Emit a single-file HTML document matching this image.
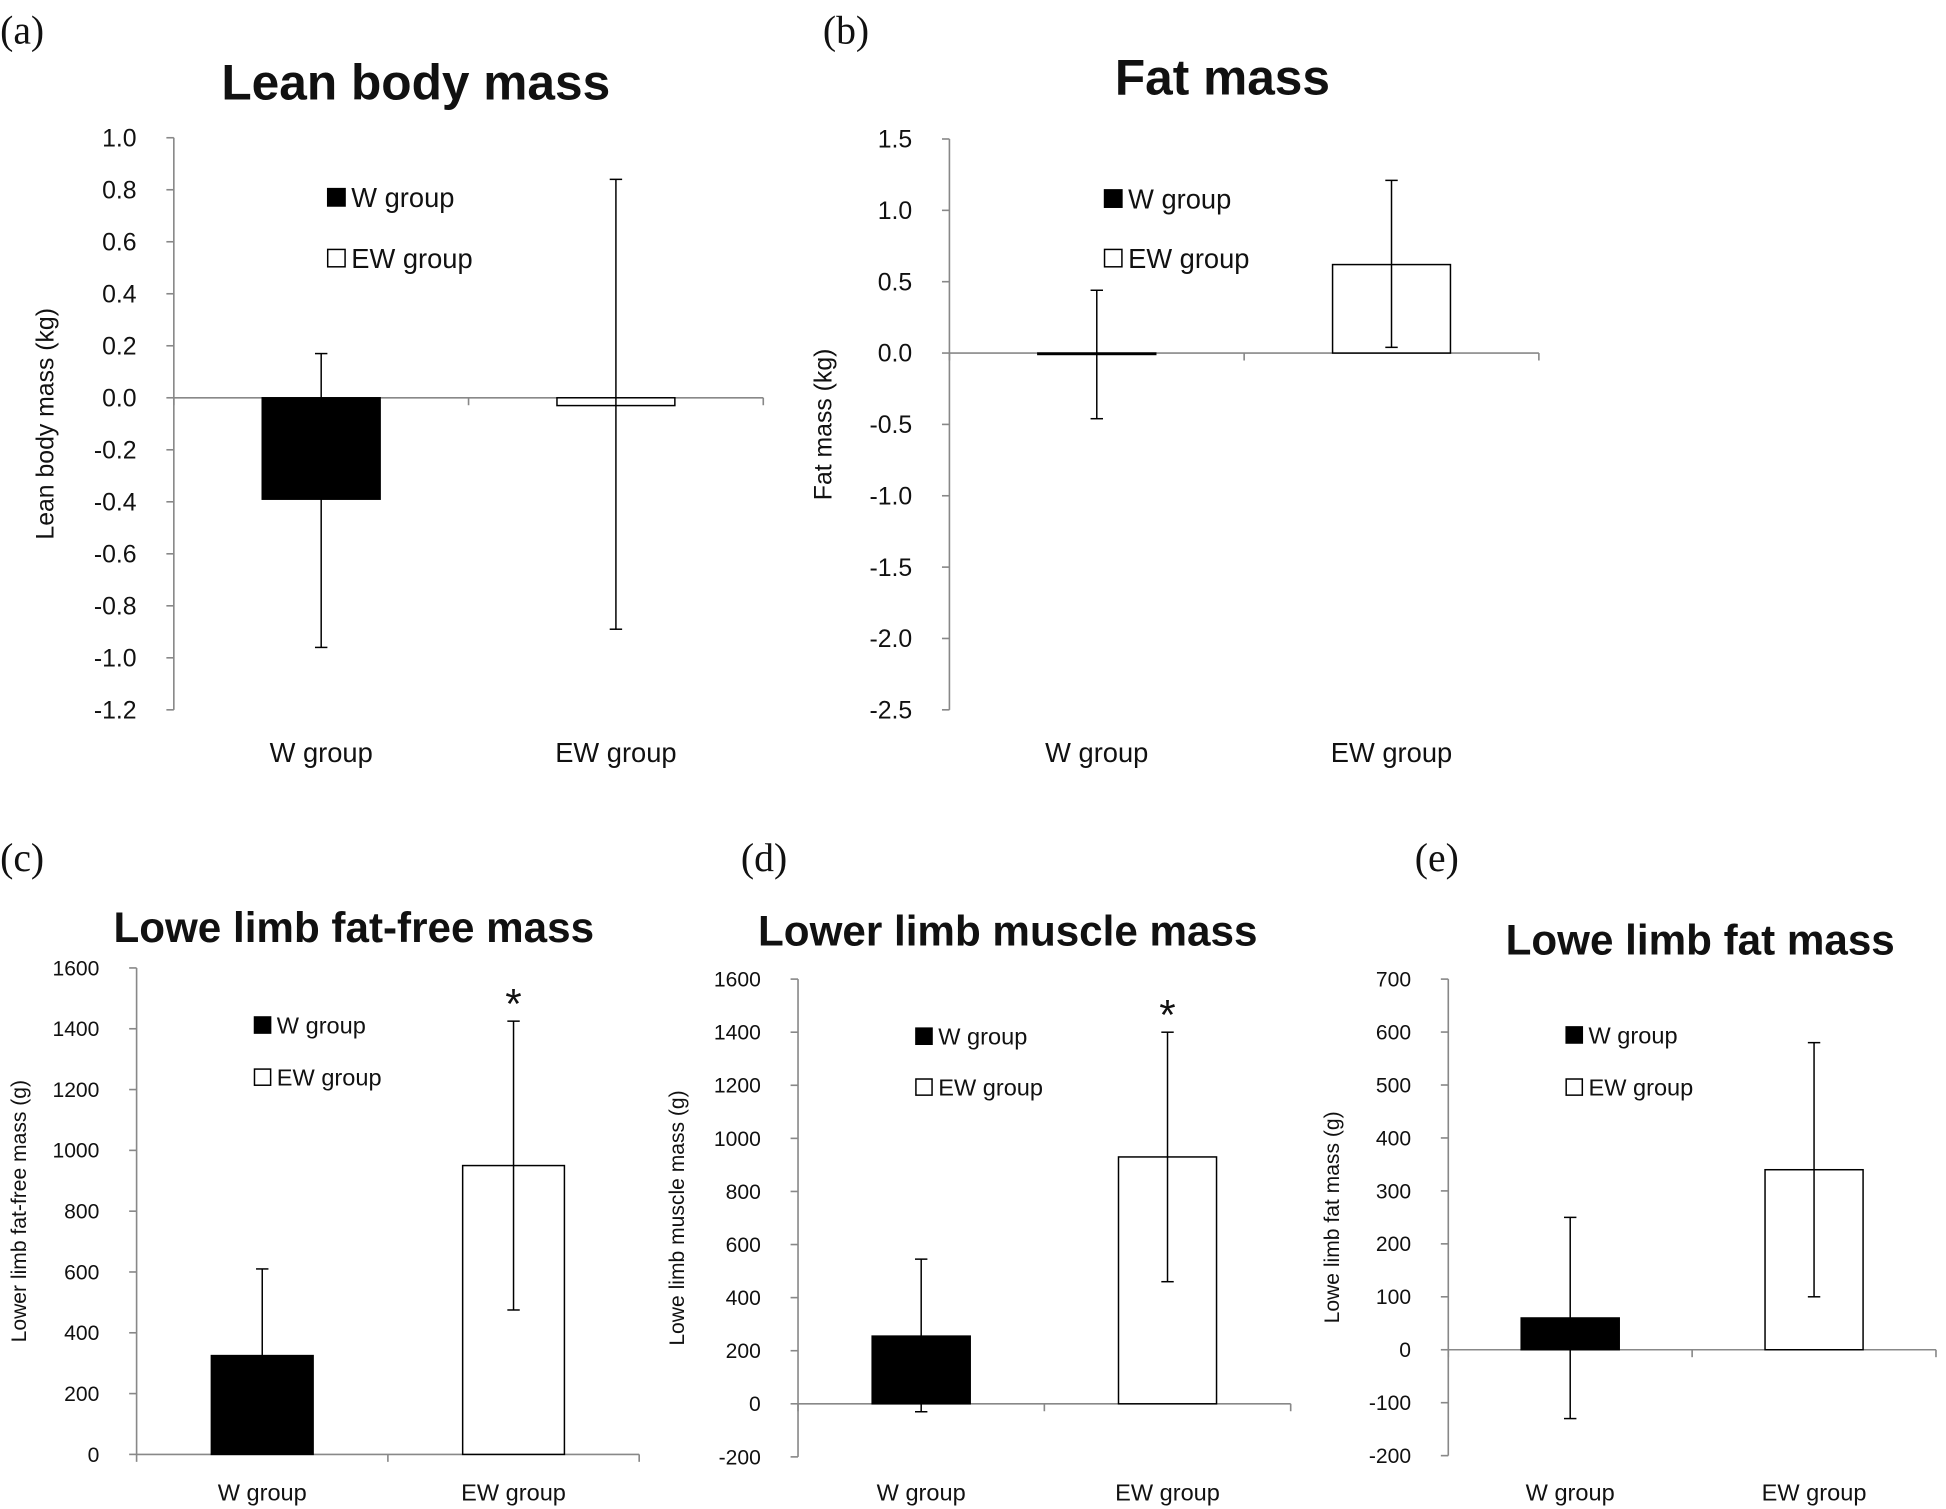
<!DOCTYPE html>
<html><head><meta charset="utf-8"><style>
html,body{margin:0;padding:0;background:#fff;}
svg{display:block;}
text{font-family:"Liberation Sans","DejaVu Sans",sans-serif;fill:#111;}
.lt{font-family:"Liberation Serif",serif;font-weight:normal;}
</style></head><body>
<svg id="chart" width="1946" height="1509" viewBox="0 0 1568 1216" xmlns="http://www.w3.org/2000/svg"></svg>
<script>
const categories = ["W group","EW group"];
const leanValues = [-0.39,-0.03];
const leanErrHi = [0.17,0.84];
const leanErrLo = [-0.96,-0.89];
const leanTicks = [1.0,0.8,0.6,0.4,0.2,0.0,-0.2,-0.4,-0.6,-0.8,-1.0,-1.2];
const fatValues = [-0.01,0.62];
const fatErrHi = [0.44,1.21];
const fatErrLo = [-0.46,0.04];
const fatTicks = [1.5,1.0,0.5,0.0,-0.5,-1.0,-1.5,-2.0,-2.5];
const ffValues = [325,950];
const ffErrHi = [610,1425];
const ffErrLo = [40,475];
const ffTicks = [1600,1400,1200,1000,800,600,400,200,0];
const muscleValues = [255,930];
const muscleErrHi = [545,1400];
const muscleErrLo = [-30,460];
const muscleTicks = [1600,1400,1200,1000,800,600,400,200,0,-200];
const limbFatValues = [60,340];
const limbFatErrHi = [250,580];
const limbFatErrLo = [-130,100];
const limbFatTicks = [700,600,500,400,300,200,100,0,-100,-200];

const NS="http://www.w3.org/2000/svg";
const svg=document.getElementById('chart');
function mk(tag,attrs,parent,txt){const e=document.createElementNS(NS,tag);for(const k in attrs)e.setAttribute(k,attrs[k]);if(txt!==undefined)e.textContent=txt;(parent||svg).appendChild(e);return e;}

function panel(o){
  const g=mk('g',{});
  
  
  const tmax=o.ticks[0],tmin=o.ticks[o.ticks.length-1];
  const y=v=>o.yTop+(tmax-v)/(tmax-tmin)*(o.yBot-o.yTop);
  const x0=o.ax,x1=o.axEnd,bw=(x1-x0)/categories.length;
  const cx=i=>x0+bw*(i+0.5);
  const lt=mk('text',{x:o.letterX,y:o.letterY,'font-size':32,class:'lt'},g,o.letter);
  
  const t=mk('text',{x:o.titleX,y:o.titleY,'font-size':o.titleSize,'font-weight':'bold','text-anchor':'middle'},g,o.title);
  
  const yl=mk('text',{x:0,y:0,'font-size':o.ylSize,'text-anchor':'middle',transform:`translate(${o.ylX},${(o.yTop+o.yBot)/2}) rotate(-90)`},g,o.ylabel);
  
  const ya=mk('line',{x1:x0,x2:x0,y1:o.yTop,y2:o.yBot,stroke:'#888','stroke-width':1.3},g);
  
  o.ticks.forEach(v=>{
    mk('line',{x1:x0-6,x2:x0,y1:y(v),y2:y(v),stroke:'#888','stroke-width':1.3},g);
    const tl=mk('text',{x:x0-30,y:y(v)+o.tickSize*0.35,'font-size':o.tickSize,'text-anchor':'end'},g,v.toFixed(o.dec));
    
  });
  const xa=mk('line',{x1:x0,x2:x1,y1:y(0),y2:y(0),stroke:'#888','stroke-width':1.3},g);
  
  for(let i=0;i<=categories.length;i++)mk('line',{x1:x0+bw*i,x2:x0+bw*i,y1:y(0),y2:y(0)+6,stroke:'#888','stroke-width':1.3},g);
  categories.forEach((c,i)=>{
    const v=o.values[i];
    const b=mk('rect',{x:cx(i)-o.barW/2,y:Math.min(y(v),y(0)),width:o.barW,height:Math.max(Math.abs(y(v)-y(0)),1),fill:i===0?'#000':'#fff',stroke:'#000','stroke-width':1.2},g);
    
    const e=mk('line',{x1:cx(i),x2:cx(i),y1:y(o.hi[i]),y2:y(o.lo[i]),stroke:'#000','stroke-width':1.2},g);
    
    mk('line',{x1:cx(i)-5,x2:cx(i)+5,y1:y(o.hi[i]),y2:y(o.hi[i]),stroke:'#000','stroke-width':1.2},g);
    mk('line',{x1:cx(i)-5,x2:cx(i)+5,y1:y(o.lo[i]),y2:y(o.lo[i]),stroke:'#000','stroke-width':1.2},g);
    const cl=mk('text',{x:cx(i),y:o.catY,'font-size':o.catSize,'text-anchor':'middle'},g,c);
    
    if(o.star&&o.star[i]){
      const s=mk('text',{x:cx(i),y:y(o.hi[i])-2,'font-size':34,'text-anchor':'middle'},g,'*');
      
    }
  });
  o.legY.forEach((ly,i)=>{
    const sq=mk('rect',{x:o.legX,y:ly-o.sq/2,width:o.sq,height:o.sq,fill:i===0?'#000':'#fff',stroke:'#000','stroke-width':1.2},g);
    
    const lt2=mk('text',{x:o.legX+o.sq+5,y:ly+o.legSize*0.36,'font-size':o.legSize},g,categories[i]);
    
  });
}
panel({id:'lean',letter:'(a)',letterX:0,letterY:35,title:'Lean body mass',titleX:335,titleY:80,titleSize:40,ylabel:'Lean body mass (kg)',ylX:43,ylSize:20,
  ticks:leanTicks,dec:1,yTop:111,yBot:572,ax:140,axEnd:615,barW:95,values:leanValues,hi:leanErrHi,lo:leanErrLo,
  catY:614,catSize:22,tickSize:20,legX:264,legY:[159,208],sq:14,legSize:22});
panel({id:'fat',letter:'(b)',letterX:663,letterY:35,title:'Fat mass',titleX:985,titleY:76,titleSize:40,ylabel:'Fat mass (kg)',ylX:670,ylSize:20,
  ticks:fatTicks,dec:1,yTop:112,yBot:572,ax:765,axEnd:1240,barW:95,values:fatValues,hi:fatErrHi,lo:fatErrLo,
  catY:614,catSize:22,tickSize:20,legX:890,legY:[160,208],sq:14,legSize:22});
panel({id:'fat-free',letter:'(c)',letterX:0,letterY:702,title:'Lowe limb fat-free mass',titleX:285,titleY:759,titleSize:34,ylabel:'Lower limb fat-free mass (g)',ylX:21,ylSize:17,
  ticks:ffTicks,dec:0,yTop:780,yBot:1172,ax:110,axEnd:515,barW:82,values:ffValues,hi:ffErrHi,lo:ffErrLo,star:[false,true],
  catY:1209,catSize:19,tickSize:17,legX:205,legY:[826,868],sq:13,legSize:19});
panel({id:'muscle',letter:'(d)',letterX:597,letterY:702,title:'Lower limb muscle mass',titleX:812,titleY:762,titleSize:34,ylabel:'Lowe limb muscle mass (g)',ylX:551,ylSize:17,
  ticks:muscleTicks,dec:0,yTop:789,yBot:1174,ax:643,axEnd:1040,barW:79,values:muscleValues,hi:muscleErrHi,lo:muscleErrLo,star:[false,true],
  catY:1209,catSize:19,tickSize:17,legX:738,legY:[835,876],sq:13,legSize:19});
panel({id:'limb-fat',letter:'(e)',letterX:1140,letterY:702,title:'Lowe limb fat mass',titleX:1370,titleY:769,titleSize:34,ylabel:'Lowe limb fat mass (g)',ylX:1079,ylSize:17,
  ticks:limbFatTicks,dec:0,yTop:789,yBot:1173,ax:1167,axEnd:1560,barW:79,values:limbFatValues,hi:limbFatErrHi,lo:limbFatErrLo,
  catY:1209,catSize:19,tickSize:17,legX:1262,legY:[834,876],sq:13,legSize:19});
</script>
</body></html>
